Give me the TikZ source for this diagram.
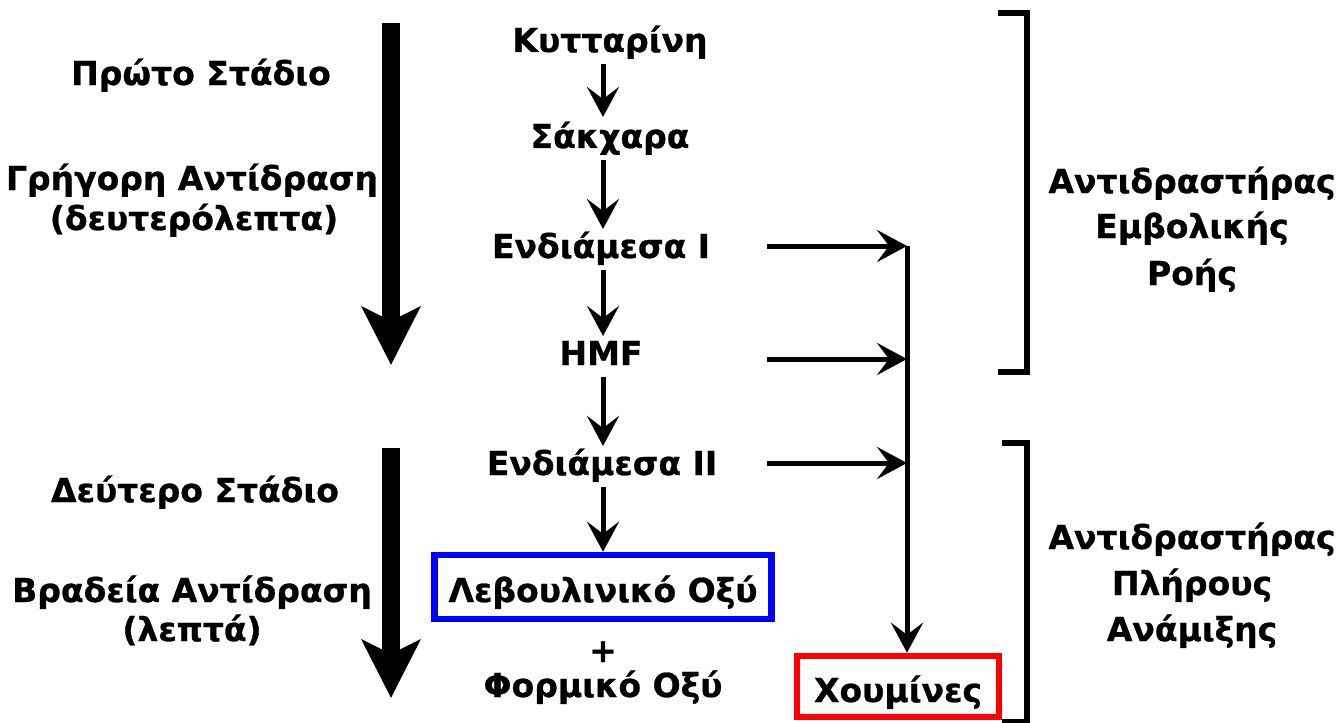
\documentclass[tikz,border=0pt]{standalone}
\usepackage{fontspec}
\setmainfont{DejaVu Sans}[BoldFeatures={FakeBold=0.8}]
\usetikzlibrary{arrows.meta}
\tikzset{
  lbl/.style={font=\fontsize{16.5pt}{20pt}\selectfont\bfseries, inner sep=0pt, anchor=base},
  chem/.style={lbl, text height=12.5pt, text depth=4pt, outer sep=2pt},
  flow/.style={line width=2.5pt, -{Stealth[length=15pt,width=16pt,inset=6pt]}},
  stage/.style={line width=9pt, -{Stealth[length=29pt,width=29pt,inset=7pt]}},
  bracket/.style={line width=2.6pt},
  prodbox/.style={lbl, anchor=center, line width=3.25pt, draw, inner sep=0pt},
}
\begin{document}
\begin{tikzpicture}[x=0.5pt,y=-0.5pt]
\useasboundingbox (0,0) rectangle (1336,722);

% stage labels on the left
\node[lbl] (st1)   at (201,85)  {Πρώτο Στάδιο};
\node[lbl] (fast)  at (192,190) {Γρήγορη Αντίδραση};
\node[lbl] (fastt) at (194,230) {(δευτερόλεπτα)};
\node[lbl] (st2)   at (195,502) {Δεύτερο Στάδιο};
\node[lbl] (slow)  at (192,602) {Βραδεία Αντίδραση};
\node[lbl] (slowt) at (192,641) {(λεπτά)};

% thick stage arrows
\coordinate (s1a) at (391,23);
\coordinate (s1b) at (391,365);
\coordinate (s2a) at (391,448);
\coordinate (s2b) at (391,698);
\draw[stage] (s1a) -- (s1b);
\draw[stage] (s2a) -- (s2b);

% reaction chain
\node[chem] (kyt) at (610,52)  {Κυτταρίνη};
\node[chem] (sak) at (610,148) {Σάκχαρα};
\node[chem] (e1)  at (601,258) {Ενδιάμεσα I};
\node[chem] (hmf) at (601,365) {HMF};
\node[chem] (e2)  at (602,475) {Ενδιάμεσα II};
\node[prodbox, draw=blue, minimum width=168.5pt, minimum height=32pt,
      text height=15.5pt, text depth=0.5pt] (lev) at (603,587) {Λεβουλινικό Οξύ};
\node[lbl] (plus) at (603,662) {+};
\node[lbl] (form) at (603,697) {Φορμικό Οξύ};
\node[prodbox, draw=red, minimum width=101pt, minimum height=30.5pt,
      text height=16pt, text depth=0.5pt] (hum) at (898,686.5) {Χουμίνες};

\draw[flow] (kyt.south -| lev) -- ([yshift=1pt]sak.north -| lev);
\draw[flow] (sak.south -| lev) -- (e1.north -| lev);
\draw[flow] (e1.south -| lev) -- (hmf.north -| lev);
\draw[flow] (hmf.south -| lev) -- (e2.north -| lev);
\draw[flow] (e2.south -| lev) -- (lev.north);

% side branch to humins
\coordinate (a1) at (767,246);
\coordinate (a2) at (767,359);
\coordinate (a3) at (767,463);
\coordinate (j1) at (907,246);
\coordinate (j2) at (907,359);
\coordinate (j3) at (907,463);
\draw[flow] (a1) -- (j1);
\draw[flow] (a2) -- (j2);
\draw[flow] (a3) -- (j3);
\draw[flow] (j1) -- (j1 |- hum.north);

% reactor brackets
\draw[bracket] (998,13) -- (1027,13) -- (1027,372) -- (998,372);
\draw[bracket] (1002,443) -- (1027,443) -- (1027,722) -- (1002,722);

% reactor labels
\node[lbl] (r1a) at (1192,193) {Αντιδραστήρας};
\node[lbl] (r1b) at (1192,238) {Εμβολικής};
\node[lbl] (r1c) at (1192,285) {Ροής};
\node[lbl] (r2a) at (1192,549) {Αντιδραστήρας};
\node[lbl] (r2b) at (1192,595) {Πλήρους};
\node[lbl] (r2c) at (1192,641) {Ανάμιξης};
\end{tikzpicture}
\end{document}
